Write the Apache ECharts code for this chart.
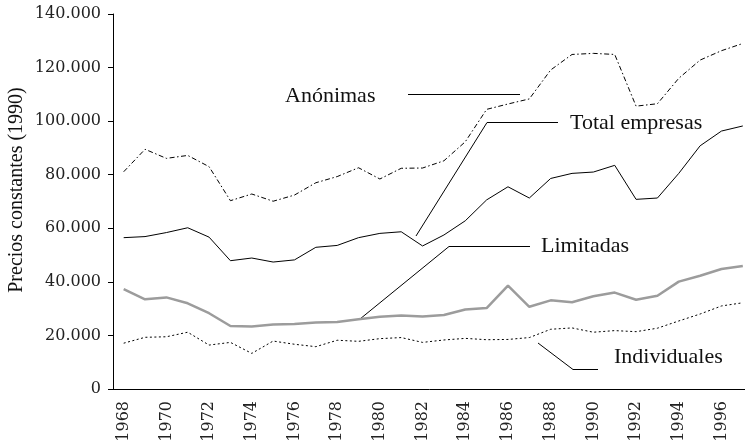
<!DOCTYPE html>
<html lang="es">
<head>
<meta charset="UTF-8">
<title>Precios constantes (1990)</title>
<script src="https://cdn.jsdelivr.net/npm/echarts@6/dist/echarts.min.js"></script>
<style>
    html, body { margin: 0; padding: 0; background: #fff; }
    #chart { width: 745px; height: 440px; }
</style>
</head>
<body>
<div id="chart"></div>
<script>
    const years = ['1968', '1969', '1970', '1971', '1972', '1973', '1974', '1975', '1976', '1977',
        '1978', '1979', '1980', '1981', '1982', '1983', '1984', '1985', '1986', '1987',
        '1988', '1989', '1990', '1991', '1992', '1993', '1994', '1995', '1996', '1997'];

    const anonimas = [81100, 89500, 86100, 87200, 83000, 70300, 72800, 70100, 72400, 77000,
        79300, 82600, 78400, 82400, 82500, 85200, 92300, 104400, 106400, 108300,
        119100, 124900, 125300, 124900, 105600, 106500, 116000, 122800, 126300, 129000];

    const totalEmpresas = [56500, 56900, 58400, 60200, 56700, 47900, 48900, 47400, 48200, 52900,
        53600, 56500, 58100, 58700, 53400, 57500, 62800, 70600, 75500, 71300,
        78600, 80500, 81000, 83500, 70800, 71300, 80500, 90800, 96300, 98200];

    const limitadas = [37300, 33500, 34200, 32000, 28300, 23500, 23300, 24100, 24300, 24800,
        25000, 26000, 27000, 27400, 27100, 27600, 29700, 30200, 38600, 30700,
        33100, 32400, 34600, 36000, 33300, 34800, 40100, 42300, 44800, 45900];

    const individuales = [17100, 19300, 19500, 21200, 16400, 17400, 13300, 17900, 16700, 15800,
        18200, 17800, 18800, 19200, 17400, 18300, 18900, 18400, 18500, 19200,
        22300, 22800, 21200, 21800, 21400, 22700, 25400, 28000, 31000, 32200];

    const serif = 'Liberation Serif';
    const tickFont = 'DejaVu Serif';

    // leader line + label for each series (pixel layout of the annotations)
    function leader(points) {
        return {
            type: 'polyline',
            shape: {points: points},
            style: {stroke: '#000', lineWidth: 1, fill: null},
            silent: true
        };
    }

    function note(text, x, y) {
        return {
            type: 'text',
            x: x,
            y: y,
            style: {
                text: text,
                font: '22px "' + serif + '"',
                fill: '#111',
                verticalAlign: 'middle'
            },
            silent: true
        };
    }

    let chart = echarts.init(document.getElementById('chart'), null, {renderer: 'canvas'});
    let option = {
        animation: false,
        backgroundColor: '#fff',
        grid: {
            left: 113,
            right: -8.5,
            top: 14,
            bottom: 51,
            containLabel: false,
            outerBoundsMode: 'none'
        },
        xAxis: {
            type: 'category',
            data: years,
            boundaryGap: true,
            axisLine: {lineStyle: {color: '#000', width: 1}},
            axisTick: {
                interval: 0,
                length: 5,
                lineStyle: {color: '#000'}
            },
            axisLabel: {
                interval: 1,
                rotate: 90,
                margin: 12,
                color: '#222',
                fontFamily: tickFont,
                fontSize: 16
            },
            splitLine: {show: false}
        },
        yAxis: {
            type: 'value',
            min: 0,
            max: 140000,
            interval: 20000,
            axisLine: {show: true, lineStyle: {color: '#000', width: 1}},
            axisTick: {show: true, length: 5, lineStyle: {color: '#000'}},
            axisLabel: {
                margin: 12,
                color: '#222',
                fontFamily: tickFont,
                fontSize: 16,
                formatter: function (v) {
                    return v === 0 ? '0' : String(v).replace(/\B(?=(\d{3})+(?!\d))/g, '.');
                }
            },
            splitLine: {show: false}
        },
        series: [
            {
                name: 'Anónimas',
                type: 'line',
                data: anonimas,
                symbol: 'none',
                lineStyle: {color: '#000', width: 1, type: [5, 2.5, 1.5, 2.5]}
            },
            {
                name: 'Total empresas',
                type: 'line',
                data: totalEmpresas,
                symbol: 'none',
                lineStyle: {color: '#000', width: 1}
            },
            {
                name: 'Limitadas',
                type: 'line',
                data: limitadas,
                symbol: 'none',
                lineStyle: {color: '#9c9c9c', width: 2.5}
            },
            {
                name: 'Individuales',
                type: 'line',
                data: individuales,
                symbol: 'none',
                lineStyle: {color: '#000', width: 1, type: [2, 2.5]}
            }
        ],
        graphic: [
            {
                type: 'text',
                x: 17,
                y: 190,
                rotation: Math.PI / 2,
                style: {
                    text: 'Precios constantes (1990)',
                    font: '20px "' + serif + '"',
                    fill: '#111',
                    align: 'center',
                    verticalAlign: 'middle'
                },
                silent: true
            },
            leader([[408, 94.5], [520, 94.5]]),
            note('Anónimas', 285, 96),
            leader([[416, 236], [487, 122.5], [558, 122.5]]),
            note('Total empresas', 570, 123),
            leader([[360, 319], [449, 246.5], [530, 246.5]]),
            note('Limitadas', 541, 246),
            leader([[538, 343], [573, 369.5], [598, 369.5]]),
            note('Individuales', 614, 357)
        ]
    };
    chart.setOption(option);
</script>
</body>
</html>
